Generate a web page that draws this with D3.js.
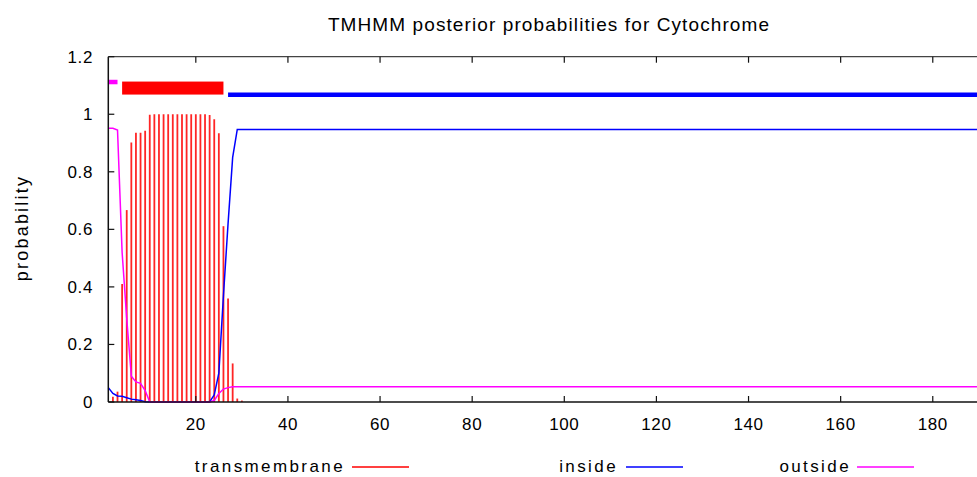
<!DOCTYPE html>
<html>
<head>
<meta charset="utf-8">
<script src="https://cdn.jsdelivr.net/npm/d3@7"></script>
<style>
  body { margin: 0; background: #fff; }
  svg { display: block; font-family: "Liberation Sans", Arial, sans-serif; }
  #title { font-size: 19px; text-anchor: middle; letter-spacing: 1.1px; }
  .tick-label { font-size: 17px; fill: #000; letter-spacing: 0.6px; }
  .ylab { font-size: 18px; letter-spacing: 2.2px; }
  .key-label { font-size: 17px; text-anchor: end; letter-spacing: 2.4px; }
</style>
</head>
<body>
<svg id="chart"></svg>
<script>
// residue numbers (1..30), the rest of the sequence is flat
const residues = [1, 2, 3, 4, 5, 6, 7, 8, 9, 10, 11, 12, 13, 14, 15, 16, 17, 18, 19, 20, 21, 22, 23, 24, 25, 26, 27, 28, 29, 30];
const seqEnd = 200;

const tmProb = [0, 0.018, 0.036, 0.41, 0.667, 0.902, 0.936, 0.936, 0.943, 0.998, 1, 1, 1, 1, 1, 1, 1, 1, 1, 1, 1, 1, 0.997, 0.983, 0.934, 0.611, 0.36, 0.134, 0.012, 0.005];
const insideProb = [0.05, 0.03, 0.021, 0.02, 0.015, 0.01, 0.008, 0.005, 0.001, 0, 0, 0, 0, 0, 0, 0, 0, 0, 0, 0, 0, 0, 0, 0.025, 0.1, 0.37, 0.62, 0.85, 0.947, 0.947];
const outsideProb = [0.951, 0.951, 0.945, 0.52, 0.29, 0.09, 0.07, 0.065, 0.04, 0, 0, 0, 0, 0, 0, 0, 0, 0, 0, 0, 0, 0, 0, 0.005, 0.03, 0.045, 0.05, 0.053, 0.053, 0.053];
const insideTail = 0.947;
const outsideTail = 0.053;

// predicted topology shown above the curves
const topoType = ['outside', 'TMhelix', 'inside'];
const topoStart = [1, 4, 27];
const topoEnd = [3, 26, seqEnd];
const topoLevel = [1.112, 1.091, 1.068];

const xTicks = [20, 40, 60, 80, 100, 120, 140, 160, 180];
const yTicks = [0, 0.2, 0.4, 0.6, 0.8, 1, 1.2];
const keyLabels = ['transmembrane', 'inside', 'outside'];

const colors = {transmembrane: '#ff0000', inside: '#0000ff', outside: '#ff00ff', TMhelix: '#ff0000'};

const width = 977, height = 477;
const plotLeft = 108.3, plotTop = 56.7, plotBottom = 402;
const pxPerRes = 4.606;

const svg = d3.select('#chart')
  .attr('width', width)
  .attr('height', height);

const x = d3.scaleLinear()
  .domain([1, seqEnd])
  .range([plotLeft, plotLeft + (seqEnd - 1) * pxPerRes]);

const y = d3.scaleLinear()
  .domain([0, 1.2])
  .range([plotBottom, plotTop]);

svg.append('text')
  .attr('id', 'title')
  .attr('x', 549)
  .attr('y', 31)
  .text('TMHMM posterior probabilities for Cytochrome');

svg.append('text')
  .attr('class', 'ylab')
  .attr('transform', 'translate(28,228) rotate(-90)')
  .attr('text-anchor', 'middle')
  .text('probability');

const plot = svg.append('g');

// red impulses for transmembrane probability
plot.selectAll('.impulse')
  .data(residues.map((r, i) => ({r: r, p: tmProb[i]})).filter(d => d.p > 0))
  .enter().append('line')
  .attr('class', 'impulse')
  .attr('x1', d => x(d.r))
  .attr('x2', d => x(d.r))
  .attr('y1', y(0))
  .attr('y2', d => y(d.p))
  .style('stroke', colors.transmembrane)
  .style('stroke-width', 1.8)
  .style('opacity', 0.85);

const line = d3.line()
  .x(d => x(d[0]))
  .y(d => y(d[1]));

const insidePts = residues.map((r, i) => [r, insideProb[i]]).concat([[seqEnd, insideTail]]);
const outsidePts = residues.map((r, i) => [r, outsideProb[i]]).concat([[seqEnd, outsideTail]]);

plot.append('path')
  .datum(insidePts)
  .attr('d', line)
  .style('fill', 'none')
  .style('stroke', colors.inside)
  .style('stroke-width', 1.5);

plot.append('path')
  .datum(outsidePts)
  .attr('d', line)
  .style('fill', 'none')
  .style('stroke', colors.outside)
  .style('stroke-width', 1.5);

// topology bars
topoType.forEach((t, i) => {
  if (t === 'TMhelix') {
    plot.append('rect')
      .attr('x', x(topoStart[i]))
      .attr('y', y(topoLevel[i]) - 6.5)
      .attr('width', x(topoEnd[i]) - x(topoStart[i]))
      .attr('height', 13)
      .style('fill', colors[t]);
  } else {
    plot.append('line')
      .attr('x1', x(topoStart[i]))
      .attr('x2', x(topoEnd[i]))
      .attr('y1', y(topoLevel[i]))
      .attr('y2', y(topoLevel[i]))
      .style('stroke', colors[t])
      .style('stroke-width', 4.5);
  }
});

// frame and ticks
const axisCol = '#111';
svg.append('line')
  .attr('x1', plotLeft).attr('x2', plotLeft)
  .attr('y1', plotTop).attr('y2', plotBottom)
  .style('stroke', axisCol).style('stroke-width', 1.5);
svg.append('line')
  .attr('x1', plotLeft).attr('x2', width + 5)
  .attr('y1', plotBottom).attr('y2', plotBottom)
  .style('stroke', axisCol).style('stroke-width', 1.5);
svg.append('line')
  .attr('x1', plotLeft).attr('x2', width + 5)
  .attr('y1', plotTop).attr('y2', plotTop)
  .style('stroke', '#444').style('stroke-width', 1.2);

svg.selectAll('.xtick')
  .data(xTicks)
  .enter().append('g')
  .attr('class', 'xtick')
  .each(function(d) {
    const g = d3.select(this);
    g.append('line')
      .attr('x1', x(d)).attr('x2', x(d))
      .attr('y1', plotBottom).attr('y2', plotBottom - 6)
      .style('stroke', axisCol).style('stroke-width', 1.2);
    g.append('line')
      .attr('x1', x(d)).attr('x2', x(d))
      .attr('y1', plotTop).attr('y2', plotTop + 6)
      .style('stroke', axisCol).style('stroke-width', 1.2);
    g.append('text')
      .attr('class', 'tick-label')
      .attr('x', x(d))
      .attr('y', 430)
      .attr('text-anchor', 'middle')
      .text(d);
  });

svg.selectAll('.ytick')
  .data(yTicks)
  .enter().append('g')
  .attr('class', 'ytick')
  .each(function(d) {
    const g = d3.select(this);
    g.append('line')
      .attr('x1', plotLeft).attr('x2', plotLeft + 6)
      .attr('y1', y(d)).attr('y2', y(d))
      .style('stroke', axisCol).style('stroke-width', 1.2);
    g.append('text')
      .attr('class', 'tick-label')
      .attr('x', 93)
      .attr('y', y(d))
      .attr('dy', '0.35em')
      .attr('text-anchor', 'end')
      .text(d);
  });

// key along the bottom
const keyTextEnd = [345, 618, 851];
const keyLineStart = [352, 626, 857];
keyLabels.forEach((k, i) => {
  svg.append('text')
    .attr('class', 'key-label')
    .attr('x', keyTextEnd[i])
    .attr('y', 472)
    .text(k);
  svg.append('line')
    .attr('x1', keyLineStart[i])
    .attr('x2', keyLineStart[i] + 57)
    .attr('y1', 467)
    .attr('y2', 467)
    .style('stroke', colors[k])
    .style('stroke-width', 1.5);
});
</script>
</body>
</html>
